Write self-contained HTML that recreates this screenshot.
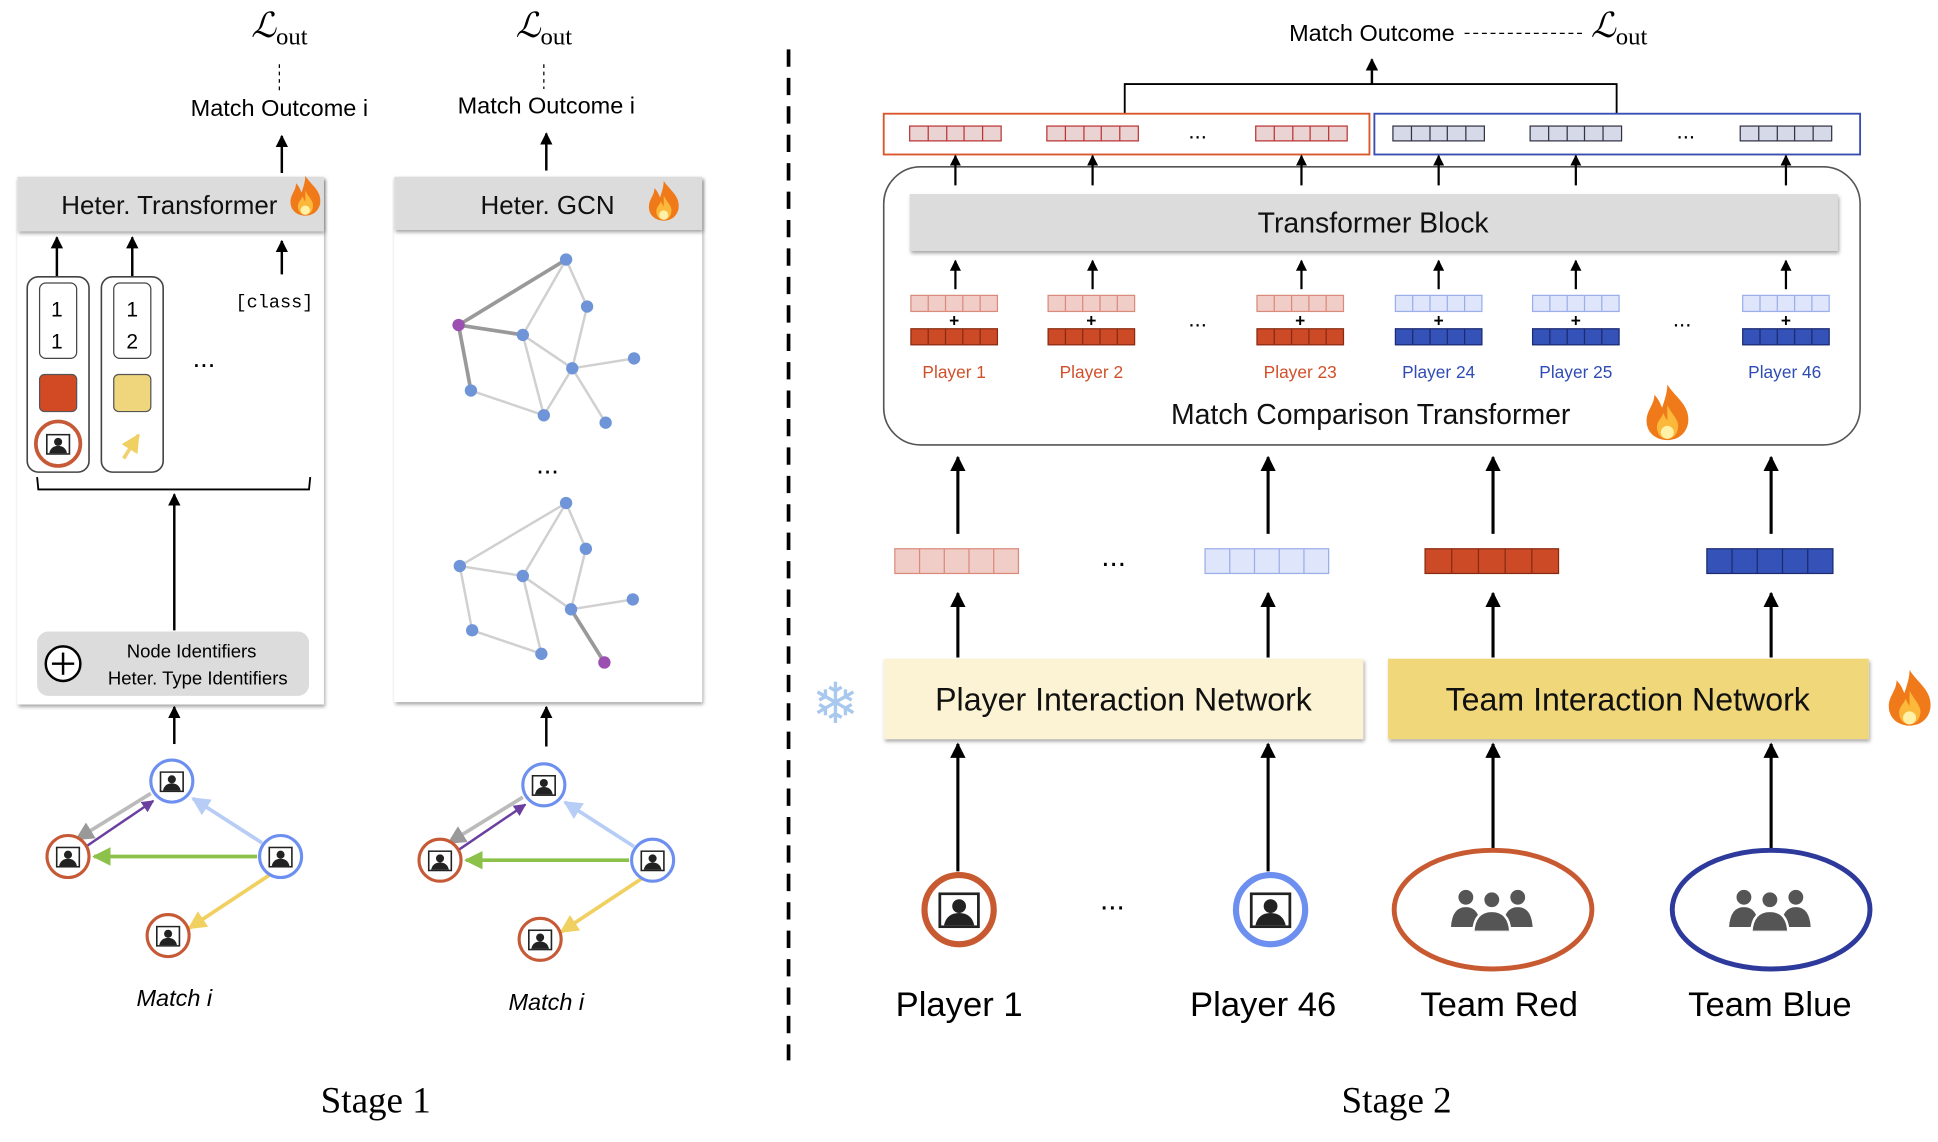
<!DOCTYPE html>
<html><head><meta charset="utf-8"><style>
html,body{margin:0;padding:0;background:#fff;}
svg{display:block;}
text{font-family:"Liberation Sans",sans-serif;}
</style></head><body>
<svg width="1938" height="1142" viewBox="0 0 1568 924" xmlns="http://www.w3.org/2000/svg">
<defs>
<marker id="ah" viewBox="0 0 10 10" refX="9" refY="5" markerWidth="5" markerHeight="5" orient="auto"><path d="M0,0L10,5L0,10z" fill="#000"/></marker>
<marker id="ag" viewBox="0 0 10 10" refX="9" refY="5" markerWidth="5" markerHeight="5" orient="auto"><path d="M0,0L10,5L0,10z" fill="#999"/></marker>
<marker id="ap" viewBox="0 0 10 10" refX="9" refY="5" markerWidth="5" markerHeight="5" orient="auto"><path d="M0,0L10,5L0,10z" fill="#6a3fa0"/></marker>
<marker id="ab" viewBox="0 0 10 10" refX="9" refY="5" markerWidth="5" markerHeight="5" orient="auto"><path d="M0,0L10,5L0,10z" fill="#b8cdf5"/></marker>
<marker id="agr" viewBox="0 0 10 10" refX="9" refY="5" markerWidth="5" markerHeight="5" orient="auto"><path d="M0,0L10,5L0,10z" fill="#8cc24a"/></marker>
<marker id="ay" viewBox="0 0 10 10" refX="9" refY="5" markerWidth="5" markerHeight="5" orient="auto"><path d="M0,0L10,5L0,10z" fill="#f0d060"/></marker>
<symbol id="person" viewBox="0 0 30 26">
<rect x="1" y="1" width="28" height="24" fill="#fff" stroke="#222" stroke-width="2"/>
<circle cx="15" cy="10" r="5" fill="#222"/>
<path d="M4,24 Q6,15 15,15 Q24,15 26,24z" fill="#222"/>
</symbol>
<symbol id="team" viewBox="0 0 70 40">
<circle cx="14" cy="12" r="6" fill="#555"/><path d="M2,36 Q3,20 14,20 Q25,20 26,36z" fill="#555"/>
<circle cx="56" cy="12" r="6" fill="#555"/><path d="M44,36 Q45,20 56,20 Q67,20 68,36z" fill="#555"/>
<circle cx="35" cy="14" r="7" fill="#555" stroke="#fff" stroke-width="2"/><path d="M20,40 Q21,23 35,23 Q49,23 50,40z" fill="#555" stroke="#fff" stroke-width="2"/>
</symbol>
<symbol id="fire" viewBox="0 0 40 46">
<path d="M20,2 C26,12 38,18 36,32 C34,42 26,45 20,45 C12,45 4,40 4,30 C4,22 10,18 10,10 C14,14 15,18 16,20 C18,14 20,8 20,2z" fill="#f07a1a"/>
<path d="M20,18 C24,26 30,30 28,37 C27,42 23,44 20,44 C15,44 12,40 12,35 C12,30 16,28 17,24 C18,27 19,28 20,30z" fill="#fbb83a"/>
<ellipse cx="20" cy="39" rx="5" ry="5" fill="#fff2a8"/>
</symbol>
<g id="tokR" stroke="#b33" stroke-width="1">
<rect x="0" y="0" width="74" height="12" fill="#e9d3d3"/>
<line x1="15" y1="0" x2="15" y2="12"/><line x1="30" y1="0" x2="30" y2="12"/><line x1="44" y1="0" x2="44" y2="12"/><line x1="59" y1="0" x2="59" y2="12"/>
</g>
<g id="tokB" stroke="#334" stroke-width="1">
<rect x="0" y="0" width="74" height="12" fill="#d5d9e8"/>
<line x1="15" y1="0" x2="15" y2="12"/><line x1="30" y1="0" x2="30" y2="12"/><line x1="44" y1="0" x2="44" y2="12"/><line x1="59" y1="0" x2="59" y2="12"/>
</g>
<g id="pairR">
<rect x="0" y="0" width="70" height="13" fill="#f1cdc8" stroke="#d98a7a"/>
<line x1="14" y1="0" x2="14" y2="13" stroke="#d98a7a"/><line x1="28" y1="0" x2="28" y2="13" stroke="#d98a7a"/><line x1="42" y1="0" x2="42" y2="13" stroke="#d98a7a"/><line x1="56" y1="0" x2="56" y2="13" stroke="#d98a7a"/>
<text x="35" y="25" font-size="14" font-weight="bold" text-anchor="middle">+</text>
<rect x="0" y="27" width="70" height="13" fill="#cc4a26" stroke="#8a2a12"/>
<line x1="14" y1="27" x2="14" y2="40" stroke="#8a2a12"/><line x1="28" y1="27" x2="28" y2="40" stroke="#8a2a12"/><line x1="42" y1="27" x2="42" y2="40" stroke="#8a2a12"/><line x1="56" y1="27" x2="56" y2="40" stroke="#8a2a12"/>
</g>
<g id="pairB">
<rect x="0" y="0" width="70" height="13" fill="#dfe5fa" stroke="#9aaee8"/>
<line x1="14" y1="0" x2="14" y2="13" stroke="#9aaee8"/><line x1="28" y1="0" x2="28" y2="13" stroke="#9aaee8"/><line x1="42" y1="0" x2="42" y2="13" stroke="#9aaee8"/><line x1="56" y1="0" x2="56" y2="13" stroke="#9aaee8"/>
<text x="35" y="25" font-size="14" font-weight="bold" text-anchor="middle">+</text>
<rect x="0" y="27" width="70" height="13" fill="#3452b8" stroke="#1c2a70"/>
<line x1="14" y1="27" x2="14" y2="40" stroke="#1c2a70"/><line x1="28" y1="27" x2="28" y2="40" stroke="#1c2a70"/><line x1="42" y1="27" x2="42" y2="40" stroke="#1c2a70"/><line x1="56" y1="27" x2="56" y2="40" stroke="#1c2a70"/>
</g>
<filter id="sh" x="-5%" y="-5%" width="110%" height="120%"><feDropShadow dx="1" dy="2" stdDeviation="1.5" flood-color="#000" flood-opacity="0.35"/></filter>
</defs>

<!-- ===== Stage 1 panel 1 ===== -->
<text x="226" y="30" font-style="italic" font-size="28" text-anchor="middle" style="font-family:'Liberation Serif',serif">ℒ<tspan font-size="20" font-style="normal" dy="6">out</tspan></text>
<line x1="226" y1="52" x2="226" y2="74" stroke="#000" stroke-dasharray="3,3"/>
<text x="226" y="94" font-size="19" text-anchor="middle">Match Outcome i</text>
<line x1="228" y1="140" x2="228" y2="110" stroke="#000" stroke-width="2" marker-end="url(#ah)"/>
<rect x="14" y="143" width="248" height="427" fill="#fff" filter="url(#sh)"/>
<rect x="14" y="143" width="248" height="44" fill="#dcdcdc" filter="url(#sh)"/>
<text x="137" y="173" font-size="21" text-anchor="middle" fill="#111">Heter. Transformer</text>
<use href="#fire" x="232" y="140" width="30" height="36"/>
<line x1="46" y1="224" x2="46" y2="192" stroke="#000" stroke-width="2" marker-end="url(#ah)"/>
<line x1="107" y1="224" x2="107" y2="192" stroke="#000" stroke-width="2" marker-end="url(#ah)"/>
<line x1="228" y1="222" x2="228" y2="195" stroke="#000" stroke-width="2" marker-end="url(#ah)"/>
<text x="222" y="249" font-size="15" text-anchor="middle" style="font-family:'Liberation Mono',monospace">[class]</text>
<rect x="22" y="224" width="50" height="158" rx="9" fill="#fff" stroke="#444" stroke-width="1.3"/>
<rect x="82" y="224" width="50" height="158" rx="9" fill="#fff" stroke="#444" stroke-width="1.3"/>
<rect x="32" y="229" width="30" height="61" rx="5" fill="#fff" stroke="#444"/>
<rect x="92" y="229" width="30" height="61" rx="5" fill="#fff" stroke="#444"/>
<text x="46" y="256" font-size="17" text-anchor="middle">1</text><text x="46" y="282" font-size="17" text-anchor="middle">1</text>
<text x="107" y="256" font-size="17" text-anchor="middle">1</text><text x="107" y="282" font-size="17" text-anchor="middle">2</text>
<rect x="32" y="303" width="30" height="30" rx="4" fill="#d24a24" stroke="#555"/>
<rect x="92" y="303" width="30" height="30" rx="4" fill="#efd67c" stroke="#555"/>
<circle cx="47" cy="359" r="18" fill="#fff" stroke="#c65a36" stroke-width="3"/>
<use href="#person" x="37" y="351" width="20" height="17"/>
<line x1="100" y1="371" x2="112" y2="352" stroke="#f0d070" stroke-width="3" marker-end="url(#ay)"/>
<text x="165" y="297" font-size="22" text-anchor="middle">...</text>
<path d="M30,386 L31,396 L250,396 L251,386" fill="none" stroke="#000" stroke-width="1.5"/>
<line x1="141" y1="510" x2="141" y2="400" stroke="#000" stroke-width="2" marker-end="url(#ah)"/>
<rect x="30" y="511" width="220" height="52" rx="9" fill="#dcdcdc"/>
<circle cx="51" cy="537" r="14" fill="#fff" stroke="#000" stroke-width="2"/>
<line x1="42" y1="537" x2="60" y2="537" stroke="#000" stroke-width="2"/><line x1="51" y1="528" x2="51" y2="546" stroke="#000" stroke-width="2"/>
<text x="155" y="532" font-size="15" text-anchor="middle">Node Identifiers</text>
<text x="160" y="554" font-size="15" text-anchor="middle">Heter. Type Identifiers</text>
<line x1="141" y1="602" x2="141" y2="572" stroke="#000" stroke-width="2" marker-end="url(#ah)"/>

<!-- match graph 1 -->
<g id="mg">
<line x1="122" y1="642" x2="62" y2="679" stroke="#bbb" stroke-width="3" marker-end="url(#ag)"/>
<line x1="68" y1="686" x2="124" y2="648" stroke="#6a3fa0" stroke-width="2" marker-end="url(#ap)"/>
<line x1="212" y1="682" x2="156" y2="646" stroke="#b8cdf5" stroke-width="3" marker-end="url(#ab)"/>
<line x1="208" y1="693" x2="76" y2="693" stroke="#8cc24a" stroke-width="3" marker-end="url(#agr)"/>
<line x1="218" y1="708" x2="153" y2="751" stroke="#f0d060" stroke-width="3" marker-end="url(#ay)"/>
<circle cx="139" cy="632" r="17" fill="#fff" stroke="#6d8ff0" stroke-width="2.5"/><use href="#person" x="129" y="624" width="20" height="17"/>
<circle cx="55" cy="693" r="17" fill="#fff" stroke="#c65a36" stroke-width="2.5"/><use href="#person" x="45" y="685" width="20" height="17"/>
<circle cx="227" cy="693" r="17" fill="#fff" stroke="#6d8ff0" stroke-width="2.5"/><use href="#person" x="217" y="685" width="20" height="17"/>
<circle cx="136" cy="757" r="17" fill="#fff" stroke="#c65a36" stroke-width="2.5"/><use href="#person" x="126" y="749" width="20" height="17"/>
</g>
<text x="141" y="814" font-size="19" font-style="italic" text-anchor="middle">Match i</text>

<!-- ===== Stage 1 panel 2 ===== -->
<text x="440" y="30" font-style="italic" font-size="28" text-anchor="middle" style="font-family:'Liberation Serif',serif">ℒ<tspan font-size="20" font-style="normal" dy="6">out</tspan></text>
<line x1="440" y1="52" x2="440" y2="72" stroke="#000" stroke-dasharray="3,3"/>
<text x="442" y="92" font-size="19" text-anchor="middle">Match Outcome i</text>
<line x1="442" y1="138" x2="442" y2="108" stroke="#000" stroke-width="2" marker-end="url(#ah)"/>
<rect x="319" y="143" width="249" height="425" fill="#fff" filter="url(#sh)"/>
<rect x="319" y="143" width="249" height="43" fill="#dcdcdc" filter="url(#sh)"/>
<text x="443" y="173" font-size="21" text-anchor="middle" fill="#111">Heter. GCN</text>
<use href="#fire" x="522" y="144" width="30" height="36"/>
<g stroke="#d0d0d0" stroke-width="2">
<line x1="458" y1="210" x2="423" y2="271"/><line x1="458" y1="210" x2="475" y2="248"/>
<line x1="423" y1="271" x2="463" y2="298"/><line x1="423" y1="271" x2="440" y2="336"/>
<line x1="475" y1="248" x2="463" y2="298"/><line x1="463" y1="298" x2="513" y2="290"/>
<line x1="463" y1="298" x2="490" y2="342"/><line x1="381" y1="316" x2="440" y2="336"/>
<line x1="463" y1="298" x2="440" y2="336"/>
<line x1="458" y1="407" x2="423" y2="466"/><line x1="458" y1="407" x2="474" y2="444"/>
<line x1="372" y1="458" x2="423" y2="466"/><line x1="372" y1="458" x2="382" y2="510"/>
<line x1="423" y1="466" x2="462" y2="493"/><line x1="423" y1="466" x2="438" y2="529"/>
<line x1="474" y1="444" x2="462" y2="493"/><line x1="462" y1="493" x2="512" y2="485"/>
<line x1="382" y1="510" x2="438" y2="529"/><line x1="372" y1="458" x2="458" y2="407"/>
</g>
<g stroke="#999" stroke-width="3">
<line x1="371" y1="263" x2="458" y2="210"/><line x1="371" y1="263" x2="423" y2="271"/><line x1="371" y1="263" x2="381" y2="316"/>
<line x1="462" y1="493" x2="489" y2="536"/>
</g>
<g fill="#6f95d8">
<circle cx="458" cy="210" r="5"/><circle cx="423" cy="271" r="5"/><circle cx="475" cy="248" r="5"/><circle cx="463" cy="298" r="5"/><circle cx="513" cy="290" r="5"/><circle cx="381" cy="316" r="5"/><circle cx="440" cy="336" r="5"/><circle cx="490" cy="342" r="5"/>
<circle cx="458" cy="407" r="5"/><circle cx="372" cy="458" r="5"/><circle cx="423" cy="466" r="5"/><circle cx="474" cy="444" r="5"/><circle cx="462" cy="493" r="5"/><circle cx="512" cy="485" r="5"/><circle cx="382" cy="510" r="5"/><circle cx="438" cy="529" r="5"/>
</g>
<circle cx="371" cy="263" r="5" fill="#9b4fb0"/><circle cx="489" cy="536" r="5" fill="#9b4fb0"/>
<text x="443" y="383" font-size="22" text-anchor="middle">...</text>
<line x1="442" y1="604" x2="442" y2="572" stroke="#000" stroke-width="2" marker-end="url(#ah)"/>
<use href="#mg" x="301" y="3"/>
<text x="442" y="817" font-size="19" font-style="italic" text-anchor="middle">Match i</text>

<!-- divider -->
<line x1="638" y1="40" x2="638" y2="858" stroke="#000" stroke-width="3" stroke-dasharray="14,9"/>
<text x="304" y="900" font-size="30" text-anchor="middle" style="font-family:'Liberation Serif',serif">Stage 1</text>
<text x="1130" y="900" font-size="30" text-anchor="middle" style="font-family:'Liberation Serif',serif">Stage 2</text>

<!-- ===== Stage 2 ===== -->
<text x="1110" y="33" font-size="19" text-anchor="middle">Match Outcome</text>
<line x1="1185" y1="27" x2="1282" y2="27" stroke="#000" stroke-dasharray="4,3"/>
<text x="1310" y="30" font-style="italic" font-size="28" text-anchor="middle" style="font-family:'Liberation Serif',serif">ℒ<tspan font-size="20" font-style="normal" dy="6">out</tspan></text>
<line x1="1110" y1="68" x2="1110" y2="48" stroke="#000" stroke-width="2" marker-end="url(#ah)"/>
<path d="M910,92 L910,68 L1308,68 L1308,92" fill="none" stroke="#000" stroke-width="1.5"/>
<rect x="715" y="92" width="393" height="33" fill="none" stroke="#d9572b" stroke-width="1.5"/>
<rect x="1112" y="92" width="393" height="33" fill="none" stroke="#3a4db0" stroke-width="1.5"/>

<use href="#tokR" x="736" y="102"/><use href="#tokR" x="847" y="102"/><use href="#tokR" x="1016" y="102"/>
<use href="#tokB" x="1127" y="102"/><use href="#tokB" x="1238" y="102"/><use href="#tokB" x="1408" y="102"/>
<text x="969" y="112" font-size="18" text-anchor="middle">...</text>
<text x="1364" y="112" font-size="18" text-anchor="middle">...</text>

<rect x="715" y="135" width="790" height="225" rx="30" fill="#fff" stroke="#555" stroke-width="1.3"/>
<g stroke="#000" stroke-width="1.8" marker-end="url(#ah)">
<line x1="773" y1="150" x2="773" y2="126"/><line x1="884" y1="150" x2="884" y2="126"/><line x1="1053" y1="150" x2="1053" y2="126"/>
<line x1="1164" y1="150" x2="1164" y2="126"/><line x1="1275" y1="150" x2="1275" y2="126"/><line x1="1445" y1="150" x2="1445" y2="126"/>
<line x1="773" y1="234" x2="773" y2="211"/><line x1="884" y1="234" x2="884" y2="211"/><line x1="1053" y1="234" x2="1053" y2="211"/>
<line x1="1164" y1="234" x2="1164" y2="211"/><line x1="1275" y1="234" x2="1275" y2="211"/><line x1="1445" y1="234" x2="1445" y2="211"/>
</g>
<rect x="736" y="157" width="751" height="46" fill="#dcdcdc" filter="url(#sh)"/>
<text x="1111" y="188" font-size="23" text-anchor="middle" fill="#111">Transformer Block</text>

<use href="#pairR" x="737" y="239"/><use href="#pairR" x="848" y="239"/><use href="#pairR" x="1017" y="239"/>
<use href="#pairB" x="1129" y="239"/><use href="#pairB" x="1240" y="239"/><use href="#pairB" x="1410" y="239"/>
<text x="969" y="264" font-size="18" text-anchor="middle">...</text>
<text x="1361" y="264" font-size="18" text-anchor="middle">...</text>
<g font-size="14" text-anchor="middle">
<text x="772" y="306" fill="#d0502a">Player 1</text><text x="883" y="306" fill="#d0502a">Player 2</text><text x="1052" y="306" fill="#d0502a">Player 23</text>
<text x="1164" y="306" fill="#2f4bb5">Player 24</text><text x="1275" y="306" fill="#2f4bb5">Player 25</text><text x="1444" y="306" fill="#2f4bb5">Player 46</text>
</g>
<text x="1109" y="343" font-size="23" text-anchor="middle" fill="#111">Match Comparison Transformer</text>
<use href="#fire" x="1328" y="308" width="42" height="50"/>

<g stroke="#000" stroke-width="2.5" marker-end="url(#ah)">
<line x1="775" y1="432" x2="775" y2="370"/><line x1="1026" y1="432" x2="1026" y2="370"/><line x1="1208" y1="432" x2="1208" y2="370"/><line x1="1433" y1="432" x2="1433" y2="370"/>
<line x1="775" y1="532" x2="775" y2="480"/><line x1="1026" y1="532" x2="1026" y2="480"/><line x1="1208" y1="532" x2="1208" y2="480"/><line x1="1433" y1="532" x2="1433" y2="480"/>
<line x1="775" y1="705" x2="775" y2="602"/><line x1="1026" y1="705" x2="1026" y2="602"/><line x1="1208" y1="688" x2="1208" y2="602"/><line x1="1433" y1="688" x2="1433" y2="602"/>
</g>
<g transform="translate(724,444)">
<rect width="100" height="20" fill="#f1cdc8" stroke="#d98a7a"/>
<line x1="20" y1="0" x2="20" y2="20" stroke="#d98a7a"/><line x1="40" y1="0" x2="40" y2="20" stroke="#d98a7a"/><line x1="60" y1="0" x2="60" y2="20" stroke="#d98a7a"/><line x1="80" y1="0" x2="80" y2="20" stroke="#d98a7a"/>
</g>
<g transform="translate(975,444)">
<rect width="100" height="20" fill="#dfe5fa" stroke="#9aaee8"/>
<line x1="20" y1="0" x2="20" y2="20" stroke="#9aaee8"/><line x1="40" y1="0" x2="40" y2="20" stroke="#9aaee8"/><line x1="60" y1="0" x2="60" y2="20" stroke="#9aaee8"/><line x1="80" y1="0" x2="80" y2="20" stroke="#9aaee8"/>
</g>
<g transform="translate(1153,444)">
<rect width="108" height="20" fill="#cc4a26" stroke="#8a2a12"/>
<line x1="21.6" y1="0" x2="21.6" y2="20" stroke="#8a2a12"/><line x1="43.2" y1="0" x2="43.2" y2="20" stroke="#8a2a12"/><line x1="64.8" y1="0" x2="64.8" y2="20" stroke="#8a2a12"/><line x1="86.4" y1="0" x2="86.4" y2="20" stroke="#8a2a12"/>
</g>
<g transform="translate(1381,444)">
<rect width="102" height="20" fill="#3452b8" stroke="#1c2a70"/>
<line x1="20.4" y1="0" x2="20.4" y2="20" stroke="#1c2a70"/><line x1="40.8" y1="0" x2="40.8" y2="20" stroke="#1c2a70"/><line x1="61.2" y1="0" x2="61.2" y2="20" stroke="#1c2a70"/><line x1="81.6" y1="0" x2="81.6" y2="20" stroke="#1c2a70"/>
</g>
<text x="901" y="458" font-size="24" text-anchor="middle">...</text>

<rect x="715" y="533" width="388" height="65" fill="#fbf3d3" filter="url(#sh)"/>
<text x="909" y="575" font-size="26" text-anchor="middle" fill="#111">Player Interaction Network</text>
<rect x="1123" y="533" width="389" height="65" fill="#f0d77a" filter="url(#sh)"/>
<text x="1317" y="575" font-size="26" text-anchor="middle" fill="#111">Team Interaction Network</text>
<text x="676" y="585" font-size="46" text-anchor="middle" fill="#a8c8ee" style="font-family:'DejaVu Sans',sans-serif">❄</text>
<use href="#fire" x="1524" y="538" width="42" height="52"/>

<circle cx="776" cy="736" r="28" fill="#fff" stroke="#c85a32" stroke-width="5"/>
<use href="#person" x="759" y="722" width="34" height="29"/>
<circle cx="1028" cy="736" r="28" fill="#fff" stroke="#6d8ff0" stroke-width="5"/>
<use href="#person" x="1011" y="722" width="34" height="29"/>
<ellipse cx="1208" cy="736" rx="80" ry="48" fill="#fff" stroke="#c85a32" stroke-width="4"/>
<use href="#team" x="1172" y="714" width="70" height="40"/>
<ellipse cx="1433" cy="736" rx="80" ry="48" fill="#fff" stroke="#2d3a9c" stroke-width="4"/>
<use href="#team" x="1397" y="714" width="70" height="40"/>
<text x="900" y="736" font-size="24" text-anchor="middle">...</text>
<g font-size="28" text-anchor="middle" fill="#000">
<text x="776" y="822">Player 1</text><text x="1022" y="822">Player 46</text><text x="1213" y="822">Team Red</text><text x="1432" y="822">Team Blue</text>
</g>
</svg>
</body></html>
